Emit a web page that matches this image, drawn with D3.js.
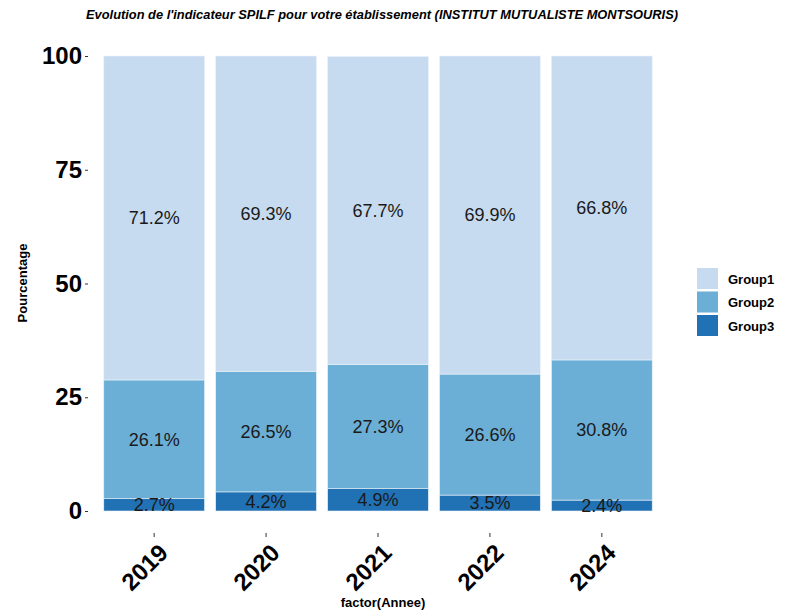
<!DOCTYPE html>
<html>
<head>
<meta charset="utf-8">
<script src="https://d3js.org/d3.v7.min.js"></script>
<style>
  body { margin: 0; background: #fff; }
  text { font-family: "Liberation Sans", Arial, sans-serif; }
</style>
</head>
<body>
<svg width="789" height="611"></svg>
<script>
var years = ["2019", "2020", "2021", "2022", "2024"];
var groups = ["Group1", "Group2", "Group3"];
var group1 = [71.2, 69.3, 67.7, 69.9, 66.8];
var group2 = [26.1, 26.5, 27.3, 26.6, 30.8];
var group3 = [2.7, 4.2, 4.9, 3.5, 2.4];
var yTicks = [0, 25, 50, 75, 100];
var colors = ["#c6dbef", "#6baed6", "#2171b5"];

var svg = d3.select("svg");

var x = d3.scaleBand()
    .domain(years)
    .range([87, 669])
    .paddingInner(0.1)
    .paddingOuter(0.15);

var y = d3.scaleLinear()
    .domain([0, 100])
    .range([511, 56]);

var color = d3.scaleOrdinal().domain(groups).range(colors);

// stack from bottom: Group3, Group2, Group1
var rows = years.map(function(d, i) {
    return { year: d, Group1: group1[i], Group2: group2[i], Group3: group3[i] };
});
var series = d3.stack().keys(["Group3", "Group2", "Group1"])(rows);

var layers = svg.append("g").selectAll("g")
    .data(series)
    .enter().append("g")
    .attr("fill", function(d) { return color(d.key); });

layers.selectAll("rect")
    .data(function(d) { return d; })
    .enter().append("rect")
    .attr("x", function(d) { return x(d.data.year); })
    .attr("width", x.bandwidth())
    .attr("y", function(d) { return y(d[1]); })
    .attr("height", function(d) { return y(d[0]) - y(d[1]); })
    .attr("stroke", "#eaf2fa")
    .attr("stroke-width", 0.6);

// labels
series.forEach(function(s) {
    svg.append("g").selectAll("text")
        .data(s)
        .enter().append("text")
        .attr("x", function(d) { return x(d.data.year) + x.bandwidth() / 2; })
        .attr("y", function(d) { return y((d[0] + d[1]) / 2); })
        .attr("dy", "0.35em")
        .attr("text-anchor", "middle")
        .attr("font-size", "18px")
        .attr("fill", "#1a1a1a")
        .text(function(d) { return d.data[s.key].toFixed(1) + "%"; });
});

// y axis
var yAxis = svg.append("g")
    .attr("transform", "translate(88,0)")
    .call(d3.axisLeft(y).tickValues(yTicks).tickSize(3).tickPadding(3));
yAxis.select(".domain").remove();
yAxis.selectAll("line").attr("stroke", "#333");
yAxis.selectAll("text")
    .attr("font-size", "24px")
    .attr("font-weight", "bold")
    .attr("fill", "#000")
    .attr("font-family", "'Liberation Sans', Arial, sans-serif");

// x axis
var xAxis = svg.append("g")
    .attr("transform", "translate(0,533)")
    .call(d3.axisBottom(x).tickSize(4));
xAxis.select(".domain").remove();
xAxis.selectAll("line").attr("stroke", "#333");
xAxis.selectAll("text")
    .attr("font-size", "24px")
    .attr("font-weight", "bold")
    .attr("fill", "#000")
    .attr("font-family", "'Liberation Sans', Arial, sans-serif")
    .attr("text-anchor", "end")
    .attr("x", 0)
    .attr("y", 0)
    .attr("dy", "0.72em")
    .attr("transform", "translate(3,9) rotate(-45)");

// axis titles
svg.append("text")
    .attr("x", 383)
    .attr("y", 607)
    .attr("text-anchor", "middle")
    .attr("font-size", "13px")
    .attr("font-weight", "bold")
    .text("factor(Annee)");

svg.append("text")
    .attr("transform", "translate(27,283) rotate(-90)")
    .attr("text-anchor", "middle")
    .attr("font-size", "13px")
    .attr("font-weight", "bold")
    .text("Pourcentage");

// title
svg.append("text")
    .attr("x", 382)
    .attr("y", 19)
    .attr("text-anchor", "middle")
    .attr("font-size", "12px")
    .attr("font-style", "italic")
    .attr("font-weight", "bold")
    .attr("textLength", 592)
    .attr("lengthAdjust", "spacingAndGlyphs")
    .text("Evolution de l'indicateur SPILF pour votre établissement (INSTITUT MUTUALISTE MONTSOURIS)");

// legend
var legend = svg.append("g")
    .attr("transform", "translate(697,268)");
var item = legend.selectAll("g")
    .data(groups)
    .enter().append("g")
    .attr("transform", function(d, i) { return "translate(0," + (i * 23.5) + ")"; });
item.append("rect")
    .attr("width", 21)
    .attr("height", 21)
    .attr("fill", function(d) { return color(d); });
item.append("text")
    .attr("x", 31)
    .attr("y", 11)
    .attr("dy", "0.35em")
    .attr("font-size", "13px")
    .attr("font-weight", "bold")
    .text(function(d) { return d; });
</script>
</body>
</html>
